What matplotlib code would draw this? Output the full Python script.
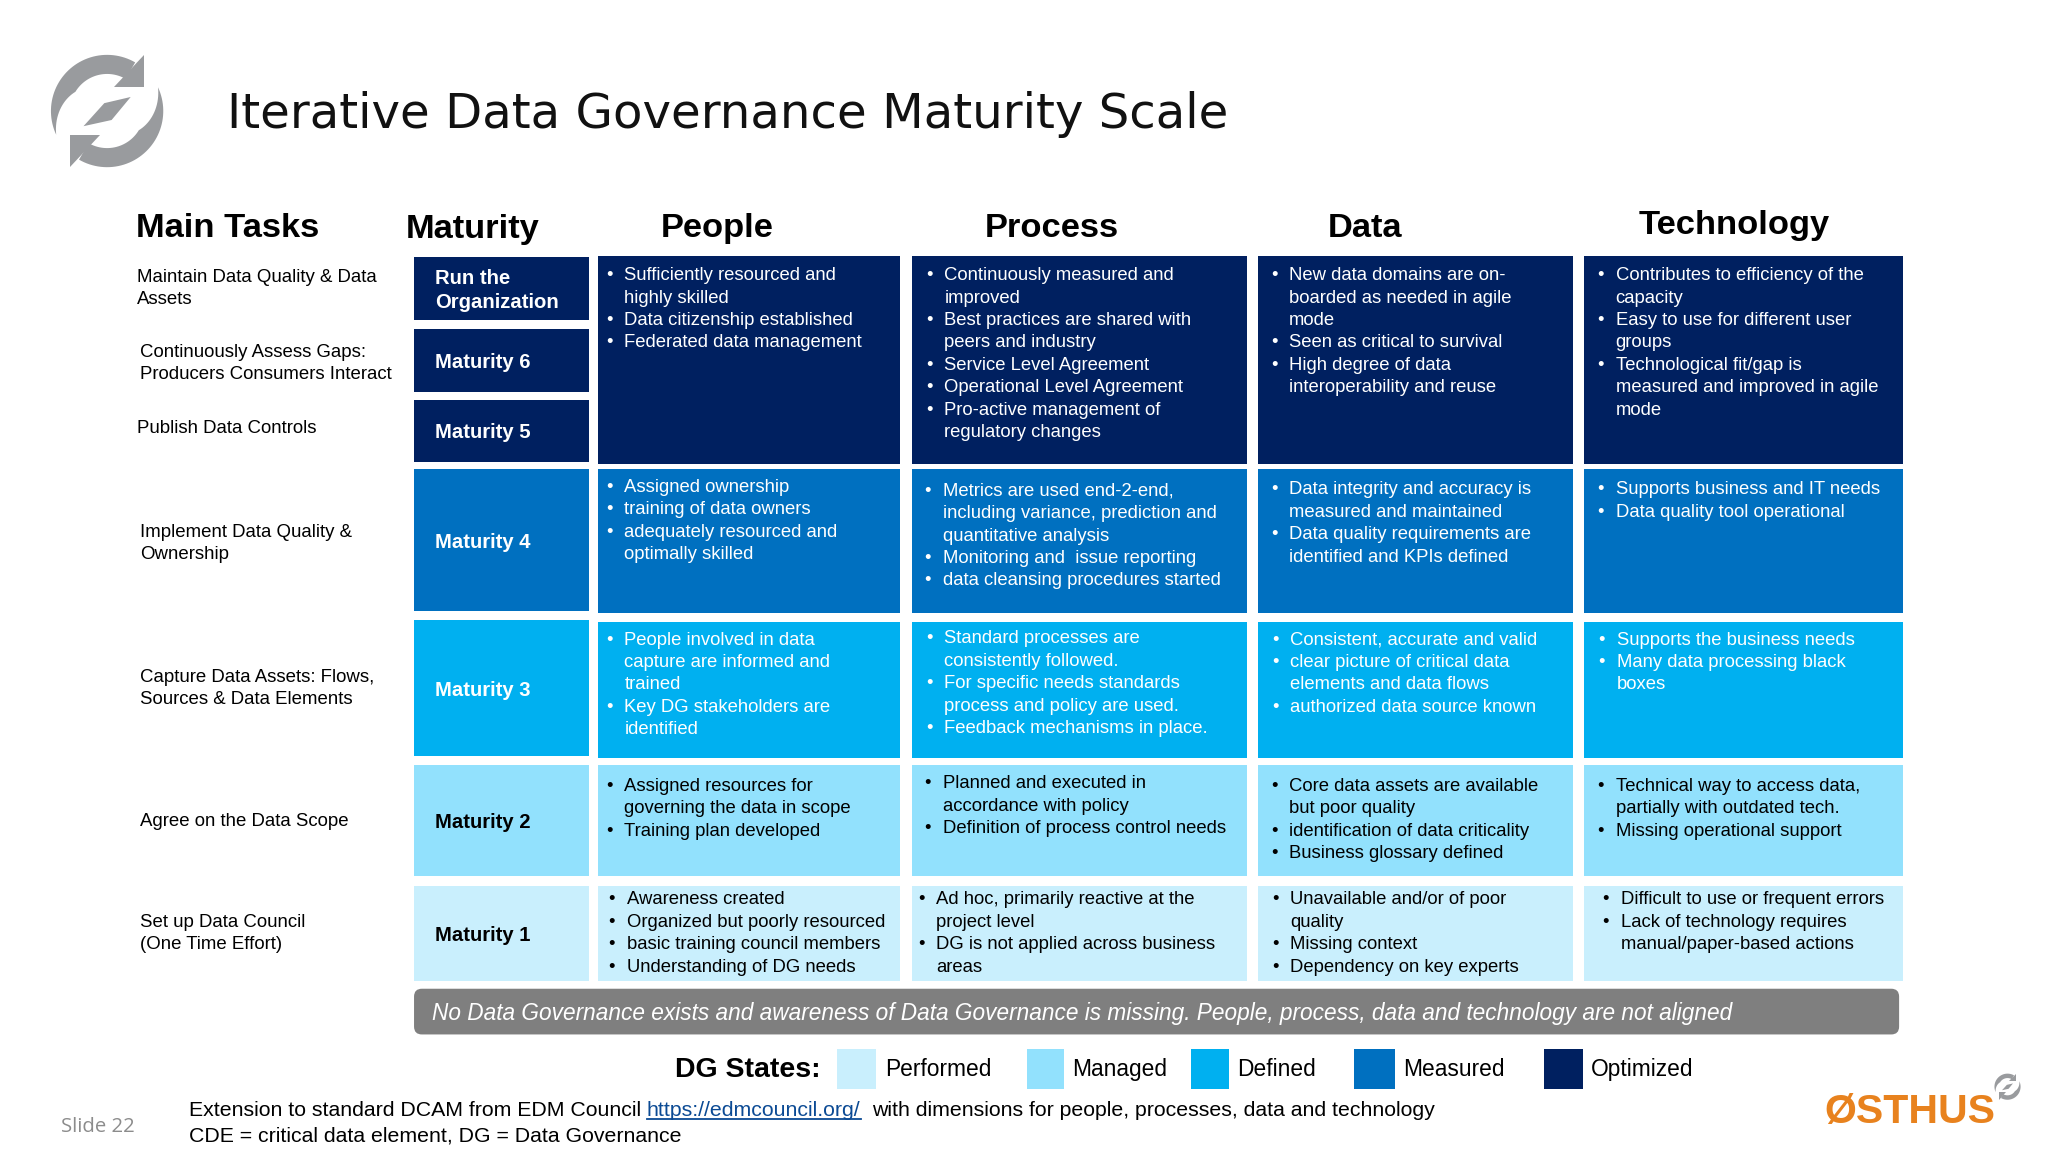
import numpy as np
from matplotlib import pyplot as plt
from matplotlib.patches import Rectangle, Polygon, FancyBboxPatch

plt.rcParams['font.family'] = ['Liberation Sans', 'DejaVu Sans']

# colours of the DG states
OPTIMIZED = "#002060"
MEASURED = "#0070C0"
DEFINED = "#00B0F0"
MANAGED = "#92E1FD"
PERFORMED = "#C9EFFD"

states = ["Performed", "Managed", "Defined", "Measured", "Optimized"]
state_colors = [PERFORMED, MANAGED, DEFINED, MEASURED, OPTIMIZED]

maturity_labels = ["Run the\nOrganization", "Maturity 6", "Maturity 5", "Maturity 4",
                   "Maturity 3", "Maturity 2", "Maturity 1"]
maturity_colors = [OPTIMIZED, OPTIMIZED, OPTIMIZED, MEASURED, DEFINED, MANAGED, PERFORMED]
maturity_text = ["white", "white", "white", "white", "white", "black", "black"]

task_labels = ["Maintain Data Quality & Data\nAssets",
               "Continuously Assess Gaps:\nProducers Consumers Interact",
               "Publish Data Controls",
               "Implement Data Quality &\nOwnership",
               "Capture Data Assets: Flows,\nSources & Data Elements",
               "Agree on the Data Scope",
               "Set up Data Council\n(One Time Effort)"]

people = [
    [["Sufficiently resourced and", "highly skilled"], ["Data citizenship established"], ["Federated data management"]],
    [["Assigned ownership"], ["training of data owners"], ["adequately resourced and", "optimally skilled"]],
    [["People involved in data", "capture are informed and", "trained"], ["Key DG stakeholders are", "identified"]],
    [["Assigned resources for", "governing the data in scope"], ["Training plan developed"]],
    [["Awareness created"], ["Organized but poorly resourced"], ["basic training council members"], ["Understanding of DG needs"]],
]
process = [
    [["Continuously measured and", "improved"], ["Best practices are shared with", "peers and industry"],
     ["Service Level Agreement"], ["Operational Level Agreement"], ["Pro-active management of", "regulatory changes"]],
    [["Metrics are used end-2-end,", "including variance, prediction and", "quantitative analysis"],
     ["Monitoring and  issue reporting"], ["data cleansing procedures started"]],
    [["Standard processes are", "consistently followed."], ["For specific needs standards", "process and policy are used."],
     ["Feedback mechanisms in place."]],
    [["Planned and executed in", "accordance with policy"], ["Definition of process control needs"]],
    [["Ad hoc, primarily reactive at the", "project level"], ["DG is not applied across business", "areas"]],
]
data_col = [
    [["New data domains are on-", "boarded as needed in agile", "mode"], ["Seen as critical to survival"],
     ["High degree of data", "interoperability and reuse"]],
    [["Data integrity and accuracy is", "measured and maintained"], ["Data quality requirements are", "identified and KPIs defined"]],
    [["Consistent, accurate and valid"], ["clear picture of critical data", "elements and data flows"], ["authorized data source known"]],
    [["Core data assets are available", "but poor quality"], ["identification of data criticality"], ["Business glossary defined"]],
    [["Unavailable and/or of poor", "quality"], ["Missing context"], ["Dependency on key experts"]],
]
technology = [
    [["Contributes to efficiency of the", "capacity"], ["Easy to use for different user", "groups"],
     ["Technological fit/gap is", "measured and improved in agile", "mode"]],
    [["Supports business and IT needs"], ["Data quality tool operational"]],
    [["Supports the business needs"], ["Many data processing black", "boxes"]],
    [["Technical way to access data,", "partially with outdated tech."], ["Missing operational support"]],
    [["Difficult to use or frequent errors"], ["Lack of technology requires", "manual/paper-based actions"]],
]
columns = [people, process, data_col, technology]
column_names = ["People", "Process", "Data", "Technology"]

# layout, in px of the shown slide
W, H = 1568, 882
mat_rows = [(197, 245), (252, 300), (306, 354), (359, 468), (475, 579), (586, 671), (678, 751)]
task_xy = [(105, 221), (107, 278), (105, 328), (107, 416), (107, 527), (107, 629), (107, 715)]
col_edges = [(458, 689), (698, 955), (963, 1204), (1213, 1457)]
cell_rows = [(196, 355), (359, 469), (476, 580), (586, 671), (678, 751)]
cell_colors = [OPTIMIZED, MEASURED, DEFINED, MANAGED, PERFORMED]
cell_text = ["white", "white", "white", "black", "black"]
first_y = [[211, 373, 490, 602, 689], [211, 376, 489, 600, 689], [211, 375, 490, 602, 689], [211, 375, 490, 602, 689]]
text_x = [[478, 478, 478, 478, 480], [723, 722, 723, 722, 717], [987, 987, 988, 987, 988], [1237, 1237, 1238, 1237, 1241]]
header_xy = [(549, 175), (805, 175), (1045, 175), (1328, 173)]
BODY = 13.3
STEP = 17.2


def sync_icon(ax, cx, cy, r, color):
    # two swept arrows and the leaf in the middle, y up in icon units
    for sign in (1, -1):
        t = np.radians(np.linspace(60, 205, 50))
        rin = np.r_[np.full(30, 0.66), np.linspace(0.66, 1.0, 20)]
        outer = np.c_[np.cos(t), np.sin(t)]
        inner = np.c_[rin * np.cos(t), rin * np.sin(t)][::-1]
        band = np.vstack([outer, inner])
        head = np.array([[0.66, 1.0], [0.66, 0.42], [0.12, 0.42]])
        for pts in (band, head):
            ax.add_patch(Polygon(np.c_[cx + sign * r * pts[:, 0], cy - sign * r * pts[:, 1]],
                                 fc=color, ec="none"))
    leaf = np.array([[-0.42, -0.27], [-0.05, 0.14], [0.42, 0.25], [0.08, -0.16]])
    ax.add_patch(Polygon(np.c_[cx + r * leaf[:, 0], cy - r * leaf[:, 1]], fc=color, ec="none"))


fig = plt.figure(figsize=(20.48, 11.52), dpi=100)
ax = fig.add_axes([0, 0, 1, 1])
ax.set_xlim(0, W)
ax.set_ylim(H, 0)
ax.axis("off")

sync_icon(ax, 82, 85, 43, "#999B9E")
ax.text(174, 88, "Iterative Data Governance Maturity Scale", fontsize=34.75, family="DejaVu Sans",
        va="center", ha="left", color="#111111")

ax.text(104, 175, "Main Tasks", fontsize=24.8, weight="bold", va="center")
ax.text(311, 176, "Maturity", fontsize=24.8, weight="bold", va="center")
for name, (hx, hy) in zip(column_names, header_xy):
    ax.text(hx, hy, name, fontsize=24.8, weight="bold", va="center", ha="center")

for label, (tx, ty) in zip(task_labels, task_xy):
    ax.text(tx, ty, label, fontsize=13.4, va="center", linespacing=1.4)

for label, col, tcol, (y0, y1) in zip(maturity_labels, maturity_colors, maturity_text, mat_rows):
    ax.add_patch(Rectangle((317, y0), 134, y1 - y0, fc=col, ec="none"))
    ax.text(333, (y0 + y1) / 2 + 1.5, label, fontsize=14.6, weight="bold", color=tcol, va="center", linespacing=1.32)

for c, (col, (x0, x1)) in enumerate(zip(columns, col_edges)):
    for r, bullets in enumerate(col):
        y0, y1 = cell_rows[r]
        ax.add_patch(Rectangle((x0, y0), x1 - x0, y1 - y0, fc=cell_colors[r], ec="none"))
        y = first_y[c][r]
        tx = text_x[c][r]
        for lines in bullets:
            ax.text(tx - 14, y, "•", fontsize=BODY, color=cell_text[r], va="center", ha="left")
            for line in lines:
                ax.text(tx, y, line, fontsize=BODY, color=cell_text[r], va="center", ha="left")
                y += STEP

ax.add_patch(FancyBboxPatch((317, 757), 1137, 35, boxstyle="round,pad=0,rounding_size=6",
                            fc="#7F7F7F", ec="none"))
ax.text(331, 776, "No Data Governance exists and awareness of Data Governance is missing. "
        "People, process, data and technology are not aligned",
        fontsize=16.3, style="italic", color="white", va="center")

ax.text(517, 819, "DG States:", fontsize=20.5, weight="bold", va="center")
state_x = [(641, 671), (786, 815), (912, 941), (1037, 1068), (1182, 1212)]
state_label_x = [678, 821, 947, 1074, 1218]
for name, col, (x0, x1), lx in zip(states, state_colors, state_x, state_label_x):
    ax.add_patch(Rectangle((x0, 803), x1 - x0, 31, fc=col, ec="none"))
    ax.text(lx, 819, name, fontsize=16.4, va="center")

ax.text(47, 863, "Slide 22", fontsize=14.6, family="Open Sans", color="#8C8C8C", va="center")
ax.text(145, 850, "Extension to standard DCAM from EDM Council", fontsize=15.3, va="center")
ax.text(495, 850, "https://edmcouncil.org/", fontsize=15.3, color="#0B4A94", va="center")
ax.plot([495, 659], [857, 857], color="#0B4A94", lw=1.3)
ax.text(668, 850, "with dimensions for people, processes, data and technology", fontsize=15.3, va="center")
ax.text(145, 869.5, "CDE = critical data element, DG = Data Governance", fontsize=15.3, va="center")

ax.text(1397, 851, "ØSTHUS", fontsize=29.5, weight="bold", color="#E8821E", va="center")
sync_icon(ax, 1537, 832, 10, "#999B9E")

fig.savefig("out.png", dpi=100)
